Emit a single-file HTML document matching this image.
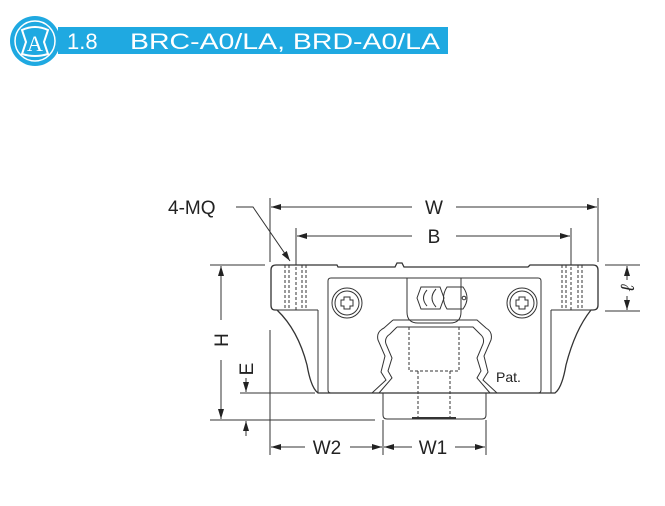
<!DOCTYPE html>
<html><head><meta charset="utf-8"><style>
html,body{margin:0;padding:0;background:#fff;width:665px;height:506px;overflow:hidden}
svg{display:block}
</style></head><body>
<svg width="665" height="506" viewBox="0 0 665 506" xmlns="http://www.w3.org/2000/svg" font-family="Liberation Sans, Arial, sans-serif">
<defs>
<marker id="a" viewBox="0 0 10 6" refX="10" refY="3" markerWidth="11" markerHeight="6" orient="auto-start-reverse" markerUnits="userSpaceOnUse"><path d="M0,0 L10,3 L0,6 z" fill="#222"/></marker>
</defs>
<!-- header -->
<rect x="58" y="27" width="390" height="27" fill="#1fa9e1"/>
<circle cx="35" cy="41" r="25" fill="#1fa9e1"/>
<circle cx="35" cy="41" r="20" fill="none" stroke="#fff" stroke-width="1.5"/>
<path d="M22,30 Q35,24 48,30 L44,42 L48,54 Q35,58 22,54 L26,42 Z" fill="none" stroke="#fff" stroke-width="2"/>
<text x="35" y="51" font-size="22" fill="#fff" text-anchor="middle" font-family="Liberation Serif, serif">A</text>
<text x="67" y="49" font-size="22" fill="#fff">1.8</text>
<text x="130" y="49" font-size="22" fill="#fff" textLength="310" lengthAdjust="spacingAndGlyphs">BRC-A0/LA, BRD-A0/LA</text>

<g stroke="#333" stroke-width="1" fill="none">
<line x1="270" y1="198" x2="270" y2="262"/>
<line x1="598" y1="198" x2="598" y2="262"/>
<line x1="296" y1="228" x2="296" y2="262"/>
<line x1="571" y1="228" x2="571" y2="262"/>
<line x1="270" y1="330" x2="270" y2="455"/>
<line x1="383" y1="420" x2="383" y2="455"/>
<line x1="486" y1="420" x2="486" y2="455"/>
<line x1="210" y1="265" x2="265" y2="265"/>
<line x1="210" y1="420" x2="375" y2="420"/>
<line x1="240" y1="393" x2="315" y2="393"/>
<line x1="605" y1="265" x2="640" y2="265"/>
<line x1="605" y1="311" x2="640" y2="311"/>
<line x1="271" y1="207" x2="412" y2="207" marker-start="url(#a)"/>
<line x1="456" y1="207" x2="597" y2="207" marker-end="url(#a)"/>
<line x1="297" y1="236" x2="412" y2="236" marker-start="url(#a)"/>
<line x1="456" y1="236" x2="570" y2="236" marker-end="url(#a)"/>
<line x1="221" y1="266" x2="221" y2="320" marker-start="url(#a)"/>
<line x1="221" y1="360" x2="221" y2="419" marker-end="url(#a)"/>
<line x1="246" y1="378" x2="246" y2="392" marker-end="url(#a)"/>
<line x1="246" y1="421" x2="246" y2="436" marker-start="url(#a)"/>
<line x1="271" y1="447" x2="305" y2="447" marker-start="url(#a)"/>
<line x1="350" y1="447" x2="382" y2="447" marker-end="url(#a)"/>
<line x1="384" y1="447" x2="412" y2="447" marker-start="url(#a)"/>
<line x1="455" y1="447" x2="485" y2="447" marker-end="url(#a)"/>
<line x1="627" y1="266" x2="627" y2="280" marker-start="url(#a)"/>
<line x1="627" y1="296" x2="627" y2="310" marker-end="url(#a)"/>
<polyline points="236,207 253,207 290,261" marker-end="url(#a)"/>
<!-- block outline -->
<path d="M276,265 L337,265 L338,267 L395,267 L397,263 L402,263 L404,267 L471,267 L528,267 L530,265 L593,265 Q598,265 598,270 L598,305 Q598,310 593,310 L591,310 Q575,330 566,365 Q562,388 555,393 L318,393 Q311,388 307,365 Q298,330 277,310 L275,310 Q271,310 271,305 L271,270 Q271,265 276,265 Z" stroke-width="1.3"/>
<line x1="276" y1="310" x2="318" y2="310"/>
<line x1="318" y1="310" x2="318" y2="393"/>
<line x1="551" y1="310" x2="593" y2="310"/>
<line x1="551" y1="310" x2="551" y2="393"/>
<path d="M331,278 L538,278 Q541,278 541,281 L541,390 Q541,393 538,393 L331,393 Q328,393 328,390 L328,281 Q328,278 331,278 Z"/>
<!-- nipple housing -->
<path d="M407,278 L407,312 Q407,323 418,323 L450,323 Q461,323 461,312 L461,278"/>
<path d="M417,298 L421,287 L440,287 L444,298 L440,309 L421,309 Z"/>
<path d="M427,290 Q420,298 427,306 M436,289 Q428,298 436,307"/>
<path d="M447,287 L463,287 Q471,298 463,309 L447,309 Q440,298 447,287 Z"/>
<circle cx="464" cy="298" r="1.8"/>
<!-- screws -->
<circle cx="347" cy="303" r="15"/><circle cx="347" cy="303" r="12"/>
<path d="M344,297 h6 v3 h3 v6 h-3 v3 h-6 v-3 h-3 v-6 h3 z"/>
<circle cx="522" cy="303" r="15"/><circle cx="522" cy="303" r="12"/>
<path d="M519,297 h6 v3 h3 v6 h-3 v3 h-6 v-3 h-3 v-6 h3 z"/>
<!-- rail seal -->
<path d="M393,320 L477,320 L486,328 Q493,332 491,340 L484,356 L488,372 L483,380 L497,393 M393,320 L384,328 Q376,332 378,340 L385,356 L381,372 L386,380 L372,393"/>
<path d="M397,327 L473,327 L480,334 Q485,338 483,344 L477,358 L481,371 L477,378 L490,393 M397,327 L390,334 Q384,338 386,344 L392,358 L388,371 L392,378 L379,393"/>
<path d="M383,393 L383,415 Q383,419 387,419 L482,419 Q486,419 486,415 L486,393"/>
<line x1="412" y1="418" x2="456" y2="418" stroke-width="2"/>
<g stroke-dasharray="3,2">
<path d="M409,327 L409,371 L459,371 L459,327"/>
<path d="M418,371 L418,418 M450,371 L450,418"/>
<path d="M285,265 V310 M289,265 V310 M296,262 V312 M302,265 V310 M306,265 V310"/>
<path d="M562,265 V310 M566,265 V310 M571,262 V312 M578,265 V310 M582,265 V310"/>
</g>
</g>
<g fill="#222" font-size="19">
<text x="168" y="214">4-MQ</text>
<text x="434" y="214" text-anchor="middle">W</text>
<text x="434" y="243" text-anchor="middle">B</text>
<text x="327" y="454" text-anchor="middle">W2</text>
<text x="433" y="454" text-anchor="middle">W1</text>
<text transform="translate(228,340) rotate(-90)" text-anchor="middle">H</text>
<text transform="translate(253,369) rotate(-90)" text-anchor="middle">E</text>
<text transform="translate(634,288) rotate(-90)" text-anchor="middle" font-style="italic">ℓ</text>
<text x="496" y="382" font-size="14">Pat.</text>
</g>
</svg>
</body></html>
